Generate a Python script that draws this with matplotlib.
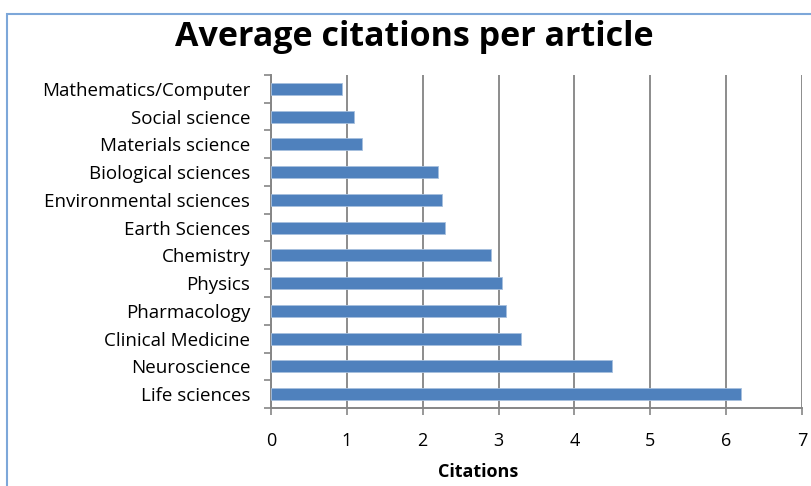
import matplotlib.pyplot as plt
from matplotlib.patches import Rectangle
import numpy as np

categories = [
    'Life sciences',
    'Neuroscience',
    'Clinical Medicine',
    'Pharmacology',
    'Physics',
    'Chemistry',
    'Earth Sciences',
    'Environmental sciences',
    'Biological sciences',
    'Materials science',
    'Social science',
    'Mathematics/Computer',
]
citations = [6.2, 4.5, 3.3, 3.1, 3.05, 2.9, 2.3, 2.25, 2.2, 1.2, 1.1, 0.94]
x_ticks = [0, 1, 2, 3, 4, 5, 6, 7]

plt.rcParams['font.family'] = ['Open Sans', 'DejaVu Sans']

fig = plt.figure(figsize=(8.12, 4.86), dpi=100)
ax = fig.add_axes([271 / 812, 1 - 408 / 486, 531 / 812, 333 / 486])

# border round the chart area
fig.patches.append(Rectangle((7 / 812, -0.1), 1.1, 1 - 14 / 486 + 0.1,
                             transform=fig.transFigure, fill=False,
                             edgecolor='#7da7d9', linewidth=1.5))

pos = np.arange(len(categories))
ax.barh(pos, citations, height=0.43, color='#4f81bd',
        edgecolor='#a7c0de', linewidth=0.6, zorder=3)

ax.set_xlim(0, 7)
ax.set_ylim(-0.5, len(categories) - 0.5)
ax.set_xticks(x_ticks)
ax.set_xticklabels([str(t) for t in x_ticks], fontsize=13)
ax.set_yticks(pos)
ax.set_yticklabels(categories, fontsize=13.5)
ax.set_yticks(np.arange(-0.5, len(categories), 1), minor=True)

ax.tick_params(axis='y', which='major', length=0, pad=15)
ax.tick_params(axis='y', which='minor', length=5, color='#868686', width=1.2)
ax.tick_params(axis='x', length=5, color='#868686', width=1.2, pad=12)

ax.grid(True, axis='x', color='#8c8c8c', linewidth=1.4, zorder=0)
for s in ['top', 'right']:
    ax.spines[s].set_visible(False)
for s in ['left', 'bottom']:
    ax.spines[s].set_color('#868686')
    ax.spines[s].set_linewidth(1.4)

ax.set_xlabel('Citations', fontsize=13, fontweight='bold')
ax.xaxis.set_label_coords((478 - 271) / 531, -0.165)

fig.suptitle('Average citations per article', x=414 / 812, y=1 - 20 / 486,
             fontsize=24.5, fontweight='bold', va='top')

plt.savefig('out.png', dpi=100)
